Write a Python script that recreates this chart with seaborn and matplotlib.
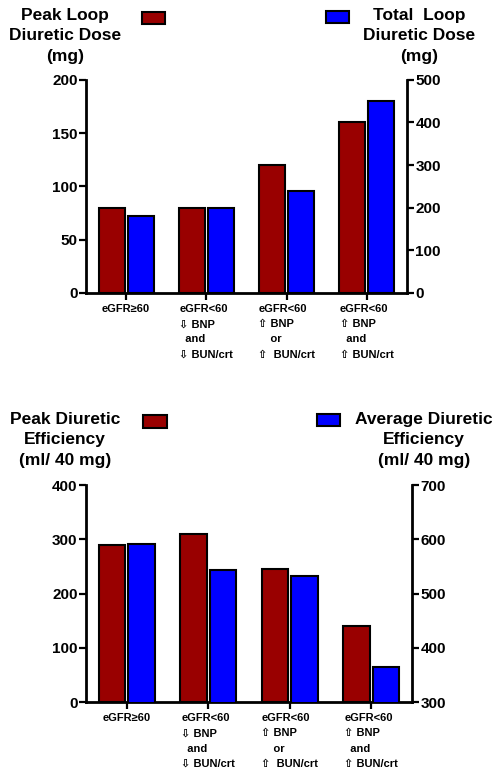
import matplotlib
matplotlib.use("Agg")
import matplotlib.pyplot as plt
from matplotlib.patches import Rectangle
import seaborn as sns
import pandas as pd

# data
groups = ["eGFR≥60",
          "eGFR<60\n⇩ BNP\n  and\n⇩ BUN/crt",
          "eGFR<60\n⇧ BNP\n    or\n⇧  BUN/crt",
          "eGFR<60\n⇧ BNP\n  and\n⇧ BUN/crt"]
peak_dose = [80, 80, 120, 160]          # mg, left axis
total_dose = [180, 200, 240, 450]       # mg, right axis
peak_eff = [290, 310, 246, 141]         # ml/40 mg, left axis
avg_eff = [592, 543, 533, 364]          # ml/40 mg, right axis

RED = "#990000"
BLUE = "#0000ff"

sns.set_theme(style="ticks")
plt.rcParams["font.family"] = ["Liberation Sans", "DejaVu Sans"]
plt.rcParams["font.weight"] = "bold"
plt.rcParams["text.color"] = "black"

fig = plt.figure(figsize=(4.97, 7.75), dpi=100)


def style_axis(ax, side):
    for s in ["top", "right", "left", "bottom"]:
        ax.spines[s].set_visible(False)
    ax.spines["bottom"].set_visible(True)
    ax.spines[side].set_visible(True)
    for s in ["bottom", side]:
        ax.spines[s].set_linewidth(2)
        ax.spines[s].set_color("black")
    ax.tick_params(axis="y", direction="out", length=5, width=1.6,
                   labelsize=11, colors="black", pad=1)
    for lab in ax.get_yticklabels():
        lab.set_fontweight("bold")


def draw_panel(rect, left_vals, right_vals, left_lim, left_ticks, right_lim, right_ticks):
    ax = fig.add_axes(rect)
    df = pd.DataFrame({"group": groups * 2,
                       "series": ["left"] * 4 + ["right"] * 4,
                       "value": left_vals + right_vals})
    pal = {"left": RED, "right": BLUE}
    kw = dict(x="group", y="value", hue="series", hue_order=["left", "right"],
              palette=pal, dodge=True, width=0.72, gap=0.1, saturation=1,
              edgecolor="black", linewidth=1.5, legend=False)
    sns.barplot(data=df[df.series == "left"], ax=ax, **kw)
    ax2 = ax.twinx()
    sns.barplot(data=df[df.series == "right"], ax=ax2, **kw)
    ax.set_xlim(-0.5, 3.5)
    ax.set_ylim(*left_lim)
    ax.set_yticks(left_ticks)
    ax2.set_ylim(*right_lim)
    ax2.set_yticks(right_ticks)
    for a in (ax, ax2):
        a.set_xlabel("")
        a.set_ylabel("")
    style_axis(ax, "left")
    style_axis(ax2, "right")
    ax2.spines["bottom"].set_visible(False)
    ax2.tick_params(axis="x", bottom=False, labelbottom=False)
    ax.tick_params(axis="x", direction="out", length=5, width=1.6, colors="black", pad=3)
    ax.set_xticks(range(len(groups)))
    ax.set_xticklabels(groups, fontsize=8, fontweight="bold",
                       multialignment="left", linespacing=1.65, va="top")
    return ax, ax2


draw_panel([0.173, 0.622, 0.646, 0.275], peak_dose, total_dose,
           (0, 200), [0, 50, 100, 150, 200], (0, 500), [0, 100, 200, 300, 400, 500])
draw_panel([0.173, 0.094, 0.656, 0.280], peak_eff, avg_eff,
           (0, 400), [0, 100, 200, 300, 400], (300, 700), [300, 400, 500, 600, 700])

W, H = 497, 775


def title(x, y, s):
    fig.text(x / W, 1 - y / H, s, ha="center", va="top", fontsize=12.5,
             fontweight="bold", linespacing=1.45)


def box(x0, y0, x1, y1, color):
    fig.add_artist(Rectangle((x0 / W, 1 - y1 / H), (x1 - x0) / W, (y1 - y0) / H,
                             transform=fig.transFigure, facecolor=color,
                             edgecolor="black", linewidth=1.5))


title(65, 8, "Peak Loop\nDiuretic Dose\n(mg)")
title(419, 8, "Total  Loop\nDiuretic Dose\n(mg)")
box(142, 12, 165, 24, RED)
box(326, 11, 349, 23, BLUE)

title(65, 412, "Peak Diuretic\nEfficiency\n(ml/ 40 mg)")
title(424, 412, "Average Diuretic\nEfficiency\n(ml/ 40 mg)")
box(143, 415, 167, 428, RED)
box(317, 414, 340, 426, BLUE)

fig.savefig("out.png", dpi=100)
